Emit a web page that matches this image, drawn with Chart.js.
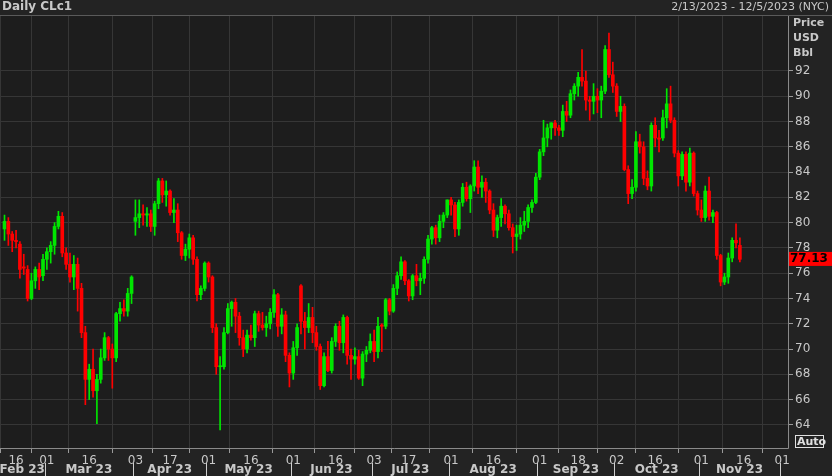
<!DOCTYPE html>
<html><head><meta charset="utf-8">
<script src="https://cdn.jsdelivr.net/npm/chart.js@4"></script>
<style>html,body{margin:0;padding:0;background:#222;}#wrap{width:832px;height:476px;}</style>
</head><body><div id="wrap"><canvas id="c" width="832" height="476"></canvas></div>
<script>
const dates=["2/13","2/14","2/15","2/16","2/17","2/21","2/22","2/23","2/24","2/27",
"2/28","3/1","3/2","3/3","3/6","3/7","3/8","3/9","3/10","3/13",
"3/14","3/15","3/16","3/17","3/20","3/21","3/22","3/23","3/24","3/27",
"3/28","3/29","3/30","3/31","4/3","4/4","4/5","4/6","4/10","4/11",
"4/12","4/13","4/14","4/17","4/18","4/19","4/20","4/21","4/24","4/25",
"4/26","4/27","4/28","5/1","5/2","5/3","5/4","5/5","5/8","5/9",
"5/10","5/11","5/12","5/15","5/16","5/17","5/18","5/19","5/22","5/23",
"5/24","5/25","5/26","5/30","5/31","6/1","6/2","6/5","6/6","6/7",
"6/8","6/9","6/12","6/13","6/14","6/15","6/16","6/20","6/21","6/22",
"6/23","6/26","6/27","6/28","6/29","6/30","7/3","7/5","7/6","7/7",
"7/10","7/11","7/12","7/13","7/14","7/17","7/18","7/19","7/20","7/21",
"7/24","7/25","7/26","7/27","7/28","7/31","8/1","8/2","8/3","8/4",
"8/7","8/8","8/9","8/10","8/11","8/14","8/15","8/16","8/17","8/18",
"8/21","8/22","8/23","8/24","8/25","8/28","8/29","8/30","8/31","9/1",
"9/5","9/6","9/7","9/8","9/11","9/12","9/13","9/14","9/15","9/18",
"9/19","9/20","9/21","9/22","9/25","9/26","9/27","9/28","9/29","10/2",
"10/3","10/4","10/5","10/6","10/9","10/10","10/11","10/12","10/13","10/16",
"10/17","10/18","10/19","10/20","10/23","10/24","10/25","10/26","10/27","10/30",
"10/31","11/1","11/2","11/3","11/6","11/7","11/8","11/9","11/10","11/13",
"11/14","11/15"];
const opens=[79.5,80.1,79.1,78.6,78.3,76.5,76.3,74.0,75.4,76.3,
75.8,77.1,77.7,78.2,79.7,80.5,77.6,76.7,75.7,76.7,
74.8,71.3,67.6,68.4,66.7,67.6,69.3,70.9,70.0,69.3,
72.8,73.2,73.0,74.4,80.1,80.4,80.7,80.6,80.7,79.7,
81.5,83.3,82.2,82.5,80.8,81.0,79.2,77.4,77.9,78.8,
77.1,74.3,74.8,76.8,75.7,71.7,68.6,68.6,71.3,73.2,
73.7,72.6,70.9,70.0,71.1,70.9,72.8,71.9,71.7,72.0,
72.9,74.3,71.8,72.7,69.5,68.1,70.1,75.0,72.2,71.7,
72.5,71.3,70.2,67.1,69.4,68.3,70.6,71.8,70.5,72.5,
69.5,69.2,69.4,67.7,69.6,69.9,70.6,69.8,71.9,71.8,
73.9,73.0,74.8,75.8,76.9,75.4,74.2,75.8,75.4,75.6,
77.1,78.7,79.6,78.8,80.1,80.6,81.8,81.4,79.5,81.6,
82.8,81.9,82.9,84.4,82.8,83.2,82.5,81.0,79.4,80.4,
81.3,80.7,79.6,78.9,79.1,79.8,80.1,81.2,81.6,83.6,
85.6,86.7,87.5,87.9,87.5,87.3,88.8,88.5,90.2,90.8,
91.5,91.2,89.7,89.6,90.0,89.7,90.4,93.7,91.7,90.8,
88.8,89.2,84.2,82.3,82.8,86.4,86.0,83.5,82.9,87.7,
86.7,86.7,88.3,89.4,88.1,85.5,83.7,85.4,83.2,85.5,
82.3,81.0,80.4,82.5,80.5,80.8,77.4,75.3,75.7,77.2,
78.6,78.2];
const highs=[80.6,80.4,79.3,79.4,78.5,77.5,76.6,76.0,76.5,76.8,
77.5,78.0,78.5,80.0,80.9,80.8,78.0,77.6,77.4,77.2,
75.2,71.8,68.8,70.0,68.0,70.0,71.3,71.0,70.4,72.9,
73.7,73.9,74.8,75.8,81.8,81.8,81.4,81.2,81.0,81.7,
83.5,83.5,83.3,82.6,81.9,81.5,79.3,78.3,79.1,79.0,
77.3,75.0,76.9,76.9,75.8,72.0,69.4,71.7,73.6,73.8,
74.0,72.9,71.5,71.5,71.9,73.0,73.0,72.9,72.6,73.2,
74.7,74.4,73.2,73.0,69.7,70.6,72.0,75.1,72.9,73.6,
73.3,71.8,70.4,69.7,70.6,70.9,72.0,72.2,72.7,72.6,
70.0,70.1,69.9,69.8,70.2,71.2,71.5,72.5,72.0,74.0,
74.0,75.1,76.1,77.3,77.0,75.5,75.9,76.7,76.0,77.3,
79.0,79.7,79.8,80.6,80.8,81.8,82.0,81.6,81.8,83.1,
83.2,83.0,84.9,84.9,83.7,83.5,82.6,81.5,80.6,81.9,
81.4,81.0,79.9,79.8,80.4,80.9,81.4,81.8,83.9,85.8,
88.1,87.8,87.9,88.1,87.7,89.3,89.6,90.5,91.0,91.9,
93.7,92.0,90.0,91.0,90.6,90.8,94.0,95.0,92.7,91.0,
90.0,89.4,84.5,83.4,87.2,87.0,86.4,84.1,87.9,88.3,
87.3,88.9,90.6,90.8,88.3,85.7,85.6,85.6,85.9,85.6,
82.5,81.8,82.9,83.6,81.0,80.9,77.5,76.0,77.6,78.8,
79.9,78.8];
const lows=[78.6,78.2,77.7,78.0,75.6,75.9,73.8,73.9,74.8,74.7,
75.4,76.3,76.8,77.5,79.5,77.3,76.3,75.3,74.7,73.0,
70.9,65.6,66.0,66.2,64.1,67.3,69.1,69.1,66.9,69.0,
72.2,72.6,72.6,73.6,79.0,79.6,79.8,79.7,79.3,79.0,
81.1,81.6,81.3,80.6,80.0,78.5,77.1,77.0,77.2,76.7,
73.8,73.9,74.6,75.3,71.3,68.0,63.6,68.4,71.2,71.8,
71.3,70.3,69.4,69.7,70.7,70.2,71.4,71.5,71.0,71.6,
72.5,71.0,71.2,69.0,67.0,67.6,69.5,71.2,70.0,71.3,
70.5,69.9,66.8,67.0,68.2,68.1,70.2,69.9,69.7,68.8,
67.6,68.8,67.6,67.1,69.0,69.7,69.0,69.3,69.8,71.6,
72.7,72.9,74.3,75.5,75.1,73.8,73.9,75.0,74.3,75.2,
76.8,78.3,78.3,78.5,79.6,80.4,80.6,78.9,79.0,81.3,
81.7,80.8,82.5,82.3,82.0,81.6,80.7,78.9,78.8,79.7,
79.9,79.4,77.6,77.8,78.7,79.3,79.6,80.8,81.5,83.4,
85.3,86.0,86.6,86.9,86.9,86.8,88.0,88.3,89.7,90.0,
90.8,88.9,88.1,88.6,88.7,88.3,90.2,91.5,90.3,88.4,
88.0,84.1,81.5,81.9,82.5,85.5,83.0,82.6,82.5,86.0,
85.6,86.5,87.5,87.9,85.2,82.9,83.4,82.5,82.9,82.1,
80.6,80.1,80.1,80.2,80.0,77.1,75.0,75.1,75.2,76.9,
78.0,76.9];
const closes=[80.1,79.1,78.6,78.5,76.3,76.4,74.0,75.4,76.3,75.7,
77.1,77.7,78.2,79.7,80.5,77.6,76.7,75.7,76.7,74.8,
71.3,67.6,68.4,66.7,67.6,69.3,70.9,70.0,69.3,72.8,
73.2,73.0,74.4,75.7,80.4,80.7,80.6,80.7,79.7,81.5,
83.3,82.2,82.5,80.8,81.0,79.2,77.4,77.9,78.8,77.1,
74.3,74.8,76.8,75.7,71.7,68.6,68.6,71.3,73.2,73.7,
72.6,70.9,70.0,71.1,70.9,72.8,71.9,71.7,72.0,72.9,
74.3,71.8,72.7,69.5,68.1,70.1,71.7,72.2,71.7,72.5,
71.3,70.2,67.1,69.4,68.3,70.6,71.8,70.5,72.5,69.5,
69.2,69.4,67.7,69.6,69.9,70.6,69.8,71.8,71.8,73.9,
73.0,74.8,75.8,76.9,75.4,74.2,75.8,75.4,75.6,77.1,
78.7,79.6,78.8,80.1,80.6,81.8,81.4,79.5,81.6,82.8,
81.9,82.9,84.4,82.8,83.2,82.5,81.0,79.4,80.4,81.3,
80.7,79.6,78.9,79.1,79.8,80.1,81.2,81.6,83.6,85.6,
86.7,87.5,87.9,87.5,87.3,88.8,88.5,90.2,90.8,91.5,
91.2,89.7,89.6,90.0,89.7,90.4,93.7,91.7,90.8,88.8,
89.2,84.2,82.3,82.8,86.4,86.0,83.5,82.9,87.7,86.7,
86.6,88.3,89.4,88.1,85.5,83.7,85.4,83.2,85.5,82.3,
81.0,80.4,82.5,80.5,80.8,77.4,75.3,75.7,77.2,78.6,
78.4,77.1];
const lastPrice=77.13;
const tickIdx=[3,11,22,34,43,53,64,75,86,96,105,116,127,139,149,159,169,181,192,202];
const tickLabels=["16","01","16","03","17","01","16","01","16","03","17","01","16","01","18","02","16","01","16","01"];
const monthStart=[-1.2,11,34,53,75,96,116,139,159,181,202];
const monthLabels=["Feb 23","Mar 23","Apr 23","May 23","Jun 23","Jul 23","Aug 23","Sep 23","Oct 23","Nov 23"];
const yTickMin=64, yTickMax=92;

const UP='#00e600', DN='#ff0000';
const cols=opens.map((o,i)=>closes[i]>=o?UP:DN);
const wickData=dates.map((d,i)=>({x:i,y:[lows[i],highs[i]]}));
const bodyData=dates.map((d,i)=>({x:i,y:[Math.min(opens[i],closes[i]),Math.max(opens[i],closes[i])]}));
const TXT='#c8c8c8', FONT='"DejaVu Sans", sans-serif';

const deco={id:'deco',
 beforeDraw(ch){const c=ch.ctx,a=ch.chartArea;c.save();c.fillStyle='#232323';c.fillRect(0,0,ch.width,ch.height);
  c.fillStyle='#1d1d1d';c.fillRect(a.left,a.top,a.right-a.left,a.bottom-a.top);c.restore();},
 afterDraw(ch){const c=ch.ctx,a=ch.chartArea,xs=ch.scales.x,ys=ch.scales.y;c.save();
  c.strokeStyle='#5a5a5a';c.lineWidth=1;c.beginPath();c.moveTo(0,a.top-0.5);c.lineTo(ch.width,a.top-0.5);c.stroke();
  c.strokeStyle='#8a8a8a';c.beginPath();c.moveTo(a.left,a.bottom+0.5);c.lineTo(a.right+0.5,a.bottom+0.5);c.lineTo(a.right+0.5,a.top);c.stroke();
  c.fillStyle=TXT;c.textBaseline='middle';c.font='bold 12px '+FONT;c.textAlign='left';c.fillText('Daily CLc1',2,7);
  c.font='11px '+FONT;c.textAlign='right';c.fillText('2/13/2023 - 12/5/2023 (NYC)',829,7);
  c.font='bold 11px '+FONT;c.textAlign='left';c.fillText('Price',793,23);c.fillText('USD',793,38);c.fillText('Bbl',793,53);
  // month row
  c.font='bold 12px '+FONT;c.textAlign='center';c.strokeStyle='#cfcfcf';
  for(let k=0;k<monthLabels.length;k++){const x0=Math.max(a.left,xs.getPixelForValue(monthStart[k]-0.6)),x1=xs.getPixelForValue(monthStart[k+1]-0.6);
   c.fillText(monthLabels[k],(x0+x1)/2,470);}
  for(let k=1;k<monthStart.length;k++){const x=Math.round(xs.getPixelForValue(monthStart[k]-0.6))+0.5;c.beginPath();c.moveTo(x,463);c.lineTo(x,476);c.stroke();}
  // last price box
  const py=ys.getPixelForValue(lastPrice);c.fillStyle='#ff0000';c.fillRect(a.right+1,py-7,44,14);
  c.fillStyle='#000';c.font='bold 12px '+FONT;c.textAlign='left';c.fillText(lastPrice.toFixed(2),a.right+2,py);
  // auto box
  c.strokeStyle='#e0e0e0';c.strokeRect(795.5,435.5,28,12);c.fillStyle='#e0e0e0';c.font='bold 11px '+FONT;c.fillText('Auto',797,442);
  c.restore();}};

new Chart(document.getElementById('c'),{type:'bar',
 data:{datasets:[
  {data:wickData,backgroundColor:cols,barThickness:1,grouped:false,order:2},
  {data:bodyData,backgroundColor:cols,barThickness:3,grouped:false,minBarLength:1,order:1}]},
 options:{responsive:false,animation:false,maintainAspectRatio:false,
  layout:{padding:{top:16,left:0,right:0,bottom:0}},
  plugins:{legend:{display:false},tooltip:{enabled:false}},
  scales:{
   x:{type:'linear',min:-1.17,max:203.5,offset:false,
    afterBuildTicks:s=>{s.ticks=tickIdx.map(v=>({value:v}));},
    afterFit:s=>{s.height=28;},
    ticks:{autoSkip:false,maxRotation:0,color:TXT,font:{family:FONT,size:12},padding:1,
     callback:(v)=>{const k=tickIdx.indexOf(v);return k>=0?tickLabels[k]:'';}},
    grid:{color:'#363636',tickColor:'#9a9a9a',tickLength:5,drawTicks:true},border:{display:false}},
   y:{position:'right',min:62.17,max:96.35,
    afterBuildTicks:s=>{const t=[];for(let v=yTickMin;v<=yTickMax;v+=2)t.push({value:v});s.ticks=t;},
    afterFit:s=>{s.width=44;},
    ticks:{color:TXT,font:{family:FONT,size:12},padding:2,callback:v=>String(v)},
    grid:{color:'#363636',tickColor:'#9a9a9a',tickLength:5},border:{display:false}}}},
 plugins:[deco]});
</script></body></html>
